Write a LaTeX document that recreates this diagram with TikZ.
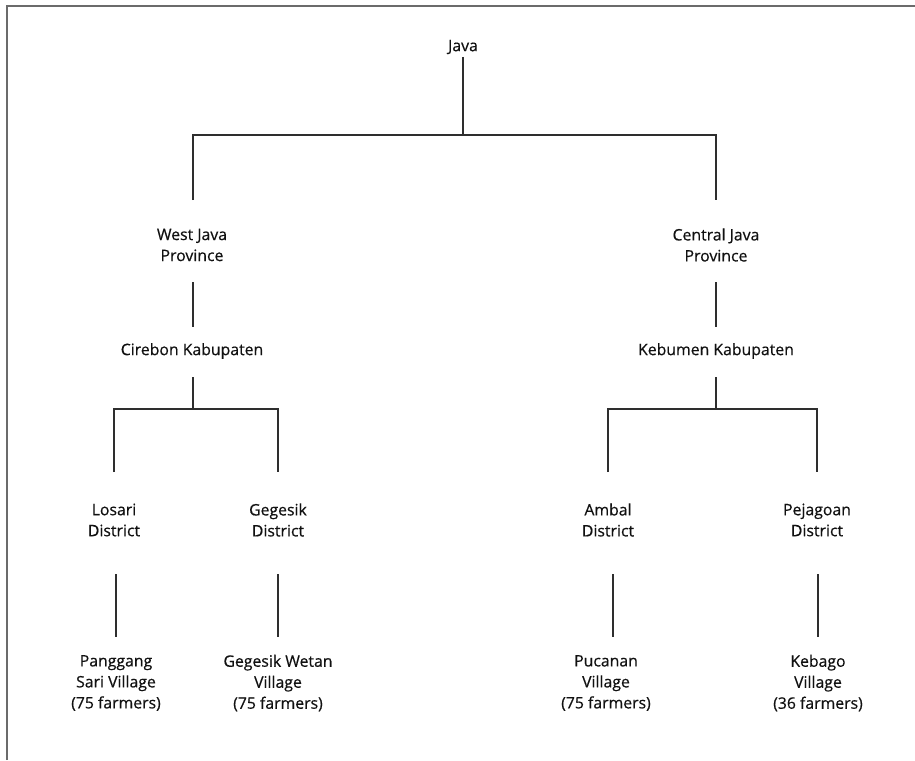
\documentclass[tikz,border=0pt]{standalone}
\usepackage{fontspec}
\setmainfont{Open Sans}
\newfontfamily\lblfont{Open Sans}[FakeBold=0.5]
\definecolor{framegray}{HTML}{6B6B6B}
\definecolor{linegray}{HTML}{2E2E2E}
\definecolor{txt}{HTML}{111111}
\tikzset{
  lbl/.style={inner sep=0pt, align=center, text=txt, font=\lblfont\fontsize{15.8}{21}\selectfont},
  conn/.style={draw=linegray, line width=1.1pt},
  frame/.style={draw=framegray, line width=2pt}
}
\begin{document}
\begin{tikzpicture}[x=1pt,y=-1pt]
\useasboundingbox (0,0) rectangle (915,760);
\draw[frame] (7,760) -- (7,6) -- (915,6);

% nodes
\node[lbl] (java) at (463,47) {Java};
\node[lbl] (west) at (192,245) {West Java\\Province};
\node[lbl] (central) at (716,245) {Central Java\\Province};
\node[lbl] (cirebon) at (192,351) {Cirebon Kabupaten};
\node[lbl] (kebumen) at (716,351) {Kebumen Kabupaten};
\node[lbl] (losari) at (114,520) {Losari\\District};
\node[lbl] (gegesik) at (278,520) {Gegesik\\District};
\node[lbl] (ambal) at (608,520) {Ambal\\District};
\node[lbl] (pejagoan) at (817,520) {Pejagoan\\District};
\node[lbl] (panggang) at (116,683) {Panggang\\Sari Village\\(75 farmers)};
\node[lbl] (wetan) at (278,683) {Gegesik Wetan\\Village\\(75 farmers)};
\node[lbl] (pucanan) at (606,683) {Pucanan\\Village\\(75 farmers)};
\node[lbl] (kebago) at (818,683) {Kebago\\Village\\(36 farmers)};

% bus coordinates
\coordinate (b1) at (463,135);
\coordinate (b2) at (193,409);
\coordinate (b3) at (716,409);

% Java level
\draw[conn] ([yshift=-10pt]java.center) -- (b1);
\draw[conn] ([yshift=45pt,xshift=1pt]west.center) -- ([xshift=1pt]west |- b1) -- (central |- b1) -- ([yshift=45pt]central.center);

% province to kabupaten
\draw[conn] ([yshift=-37pt,xshift=1pt]west.center) -- ([yshift=24pt,xshift=1pt]cirebon.center);
\draw[conn] ([yshift=-37pt]central.center) -- ([yshift=24pt]kebumen.center);

% kabupaten to districts
\draw[conn] ([yshift=-26pt,xshift=1pt]cirebon.center) -- (b2);
\draw[conn] ([yshift=48pt]losari.center) -- (losari |- b2) -- (gegesik |- b2) -- ([yshift=48pt]gegesik.center);
\draw[conn] ([yshift=-26pt]kebumen.center) -- (b3);
\draw[conn] ([yshift=48pt]ambal.center) -- (ambal |- b3) -- (pejagoan |- b3) -- ([yshift=48pt]pejagoan.center);

% districts to villages
\draw[conn] ([yshift=-54pt]panggang.center |- losari.center) -- ([yshift=46pt]panggang.center);
\draw[conn] ([yshift=-54pt]wetan.center |- gegesik.center) -- ([yshift=46pt]wetan.center);
\draw[conn] ([yshift=-54pt,xshift=7pt]pucanan.center |- ambal.center) -- ([yshift=46pt,xshift=7pt]pucanan.center);
\draw[conn] ([yshift=-54pt]kebago.center |- pejagoan.center) -- ([yshift=46pt]kebago.center);
\end{tikzpicture}
\end{document}
